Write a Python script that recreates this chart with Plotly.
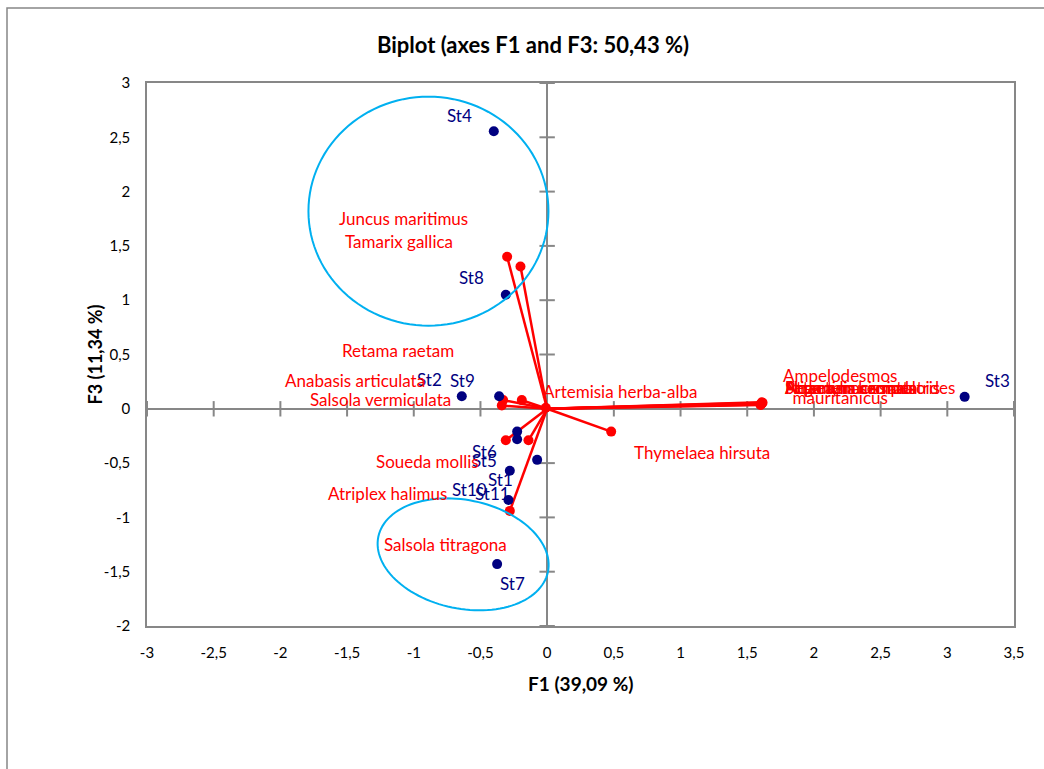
import math
import plotly.graph_objects as go

# --- Observations (stations) on F1 / F3 ---
station_names = ["St1", "St2", "St3", "St4", "St5", "St6", "St7", "St8", "St9", "St10", "St11"]
station_f1 = [-0.28, -0.36, 3.13, -0.40, -0.225, -0.225, -0.375, -0.31, -0.64, -0.075, -0.29]
station_f3 = [-0.57, 0.115, 0.11, 2.555, -0.28, -0.21, -1.43, 1.05, 0.115, -0.47, -0.84]

# --- Variables (species) on F1 / F3 ---
species_names = [
    "Juncus maritimus", "Tamarix gallica", "Retama raetam", "Anabasis articulata",
    "Salsola vermiculata", "Artemisia herba-alba", "Ampelodesmos<br>mauritanicus",
    "Stipa tenacissima", "Artemisia campestris", "Atractylis serratuloides",
    "Peganum harmala", "Noaea mucronata", "Thymelaea hirsuta", "Soueda mollis",
    "Atriplex halimus", "Salsola titragona",
]
species_f1 = [-0.30, -0.20, -0.19, -0.33, -0.34, -0.01, 1.61, 1.60, 1.605, 1.615, 1.61, 1.60,
              0.48, -0.14, -0.31, -0.28]
species_f3 = [1.40, 1.31, 0.08, 0.08, 0.03, 0.01, 0.05, 0.04, 0.045, 0.055, 0.06, 0.035,
              -0.21, -0.29, -0.29, -0.94]

# --- Axis ticks ---
x_ticks = [-3, -2.5, -2, -1.5, -1, -0.5, 0, 0.5, 1, 1.5, 2, 2.5, 3, 3.5]
x_tick_text = ["-3", "-2,5", "-2", "-1,5", "-1", "-0,5", "0", "0,5", "1", "1,5", "2", "2,5", "3", "3,5"]
y_ticks = [-2, -1.5, -1, -0.5, 0, 0.5, 1, 1.5, 2, 2.5, 3]
y_tick_text = ["-2", "-1,5", "-1", "-0,5", "0", "0,5", "1", "1,5", "2", "2,5", "3"]

# --- Group ellipses: centre (F1, F3) ---
group_cx = [-0.89, -0.63]
group_cy = [1.82, -1.34]

# Label placement (pixel offsets from each mark)
station_label_shift = {
    "St1": (-9, -9), "St2": (-70, 17), "St3": (33, 16), "St4": (-34, 16),
    "St5": (-33, -21), "St6": (-33, -20), "St7": (15, -19), "St8": (-34, 17),
    "St9": (1, 16), "St10": (-68, -30), "St11": (-16, 7),
}
species_label_pos = {  # absolute label centre in pixels
    "Juncus maritimus": (403, 218), "Tamarix gallica": (399, 241),
    "Retama raetam": (398, 350), "Anabasis articulata": (355, 380),
    "Salsola vermiculata": (380, 399), "Artemisia herba-alba": (620, 391),
    "Ampelodesmos<br>mauritanicus": (840, 386), "Thymelaea hirsuta": (702, 452),
    "Soueda mollis": (427, 461), "Atriplex halimus": (387, 493),
    "Salsola titragona": (445, 544),
}
cluster_left_px = 783  # overlapping labels of the right-hand cluster start here

W, H = 1044, 769
ML, MR, MT, MB = 147, 30, 83, 143
X_RANGE = (-3, 3.5)
Y_RANGE = (-2, 3)
PW, PH = W - ML - MR, H - MT - MB
SX = PW / (X_RANGE[1] - X_RANGE[0])
SY = PH / (Y_RANGE[1] - Y_RANGE[0])


def px_to_data(px, py):
    return X_RANGE[0] + (px - ML) / SX, Y_RANGE[1] - (py - MT) / SY


GREY = "#878787"
RED = "#FF0000"
NAVY = "#000080"
CYAN = "#00B0F0"
FONT = "Lato"
LABEL_SIZE = 17

fig = go.Figure()

# cross ticks on the zero axes
fig.add_trace(go.Scatter(
    x=[v for v in x_ticks if v != 0], y=[0] * (len(x_ticks) - 1), mode="markers",
    marker=dict(symbol="line-ns", size=11, line=dict(color=GREY, width=2)),
    hoverinfo="skip", showlegend=False, cliponaxis=False))
fig.add_trace(go.Scatter(
    x=[0] * (len(y_ticks) - 1), y=[v for v in y_ticks if v != 0], mode="markers",
    marker=dict(symbol="line-ew", size=11, line=dict(color=GREY, width=2)),
    hoverinfo="skip", showlegend=False, cliponaxis=False))

# variable vectors from the origin
vx, vy = [], []
for a, b in zip(species_f1, species_f3):
    vx += [0, a, None]
    vy += [0, b, None]
fig.add_trace(go.Scatter(x=vx, y=vy, mode="lines", line=dict(color=RED, width=2.5),
                         hoverinfo="skip", showlegend=False))
fig.add_trace(go.Scatter(x=species_f1, y=species_f3, mode="markers",
                         marker=dict(color=RED, size=10), text=species_names,
                         hoverinfo="text", showlegend=False))

# stations
fig.add_trace(go.Scatter(x=station_f1, y=station_f3, mode="markers",
                         marker=dict(color=NAVY, size=10), text=station_names,
                         hoverinfo="text", showlegend=False))

annotations = []
for n, a, b in zip(station_names, station_f1, station_f3):
    dx, dy = station_label_shift[n]
    annotations.append(dict(x=a, y=b, xref="x", yref="y", text=n, showarrow=False,
                            xshift=dx, yshift=dy,
                            font=dict(family=FONT, size=LABEL_SIZE, color=NAVY)))

for n in species_names:
    if n in species_label_pos:
        lx, ly = px_to_data(*species_label_pos[n])
        annotations.append(dict(x=lx, y=ly, xref="x", yref="y", text=n, showarrow=False,
                                xanchor="center", yanchor="middle",
                                font=dict(family=FONT, size=LABEL_SIZE, color=RED)))
    else:
        lx, ly = px_to_data(cluster_left_px, 387)
        annotations.append(dict(x=lx, y=ly, xref="x", yref="y", text=n, showarrow=False,
                                xanchor="left", yanchor="middle",
                                font=dict(family=FONT, size=LABEL_SIZE, color=RED)))

# axis titles
annotations.append(dict(x=0.5, y=0, xref="paper", yref="paper", yshift=-57,
                        text="<b>F1 (39,09 %)</b>", showarrow=False, yanchor="middle",
                        font=dict(family=FONT, size=19, color="black")))
annotations.append(dict(x=0, y=0.5, xref="paper", yref="paper", xshift=-53,
                        text="<b>F3 (11,34 %)</b>", showarrow=False, textangle=-90,
                        xanchor="center", font=dict(family=FONT, size=18, color="black")))


def ellipse_path(cx, cy, a_px, b_px, tilt_deg, n=120):
    t = math.radians(tilt_deg)
    pts = []
    for i in range(n + 1):
        u = 2 * math.pi * i / n
        ex = a_px * math.cos(u) * math.cos(t) - b_px * math.sin(u) * math.sin(t)
        ey = a_px * math.cos(u) * math.sin(t) + b_px * math.sin(u) * math.cos(t)
        pts.append((cx + ex / SX, cy - ey / SY))
    return "M " + " L ".join(f"{x:.4f},{y:.4f}" for x, y in pts) + " Z"


ellipse_shape = [(120, 114.5, 0), (86.6, 54.3, 11.7)]
shapes = []
for (cx, cy), (ea, eb, et) in zip(zip(group_cx, group_cy), ellipse_shape):
    shapes.append(dict(type="path", xref="x", yref="y", path=ellipse_path(cx, cy, ea, eb, et),
                       line=dict(color=CYAN, width=2), layer="above"))

# chart-area frame (runs past the right and bottom edges of the page)
shapes.append(dict(type="rect", xref="paper", yref="paper",
                   x0=(7 - ML) / PW, x1=(1060 - ML) / PW,
                   y0=-(H + 20 - MT - PH) / PH, y1=(MT + PH - 8) / PH,
                   line=dict(color=GREY, width=1.5), layer="below"))

axis_common = dict(showgrid=False, zeroline=True, zerolinecolor=GREY, zerolinewidth=2,
                   showline=True, mirror=True, linecolor=GREY, linewidth=1.5,
                   ticks="outside", ticklen=12, tickcolor="rgba(0,0,0,0)",
                   tickfont=dict(family=FONT, size=15, color="black"))

fig.update_layout(
    width=W, height=H,
    margin=dict(l=ML, r=MR, t=MT, b=MB),
    paper_bgcolor="white", plot_bgcolor="white",
    title=dict(text="<b>Biplot (axes F1 and F3: 50,43 %)</b>", x=533 / W, xref="container",
               xanchor="center", y=1 - 45 / H, yref="container", yanchor="middle",
               font=dict(family=FONT, size=22, color="black")),
    xaxis=dict(range=list(X_RANGE), tickvals=x_ticks, ticktext=x_tick_text, **axis_common),
    yaxis=dict(range=list(Y_RANGE), tickvals=y_ticks, ticktext=y_tick_text, **axis_common),
    annotations=annotations,
    shapes=shapes,
    showlegend=False,
)

fig.write_html("out.html")
